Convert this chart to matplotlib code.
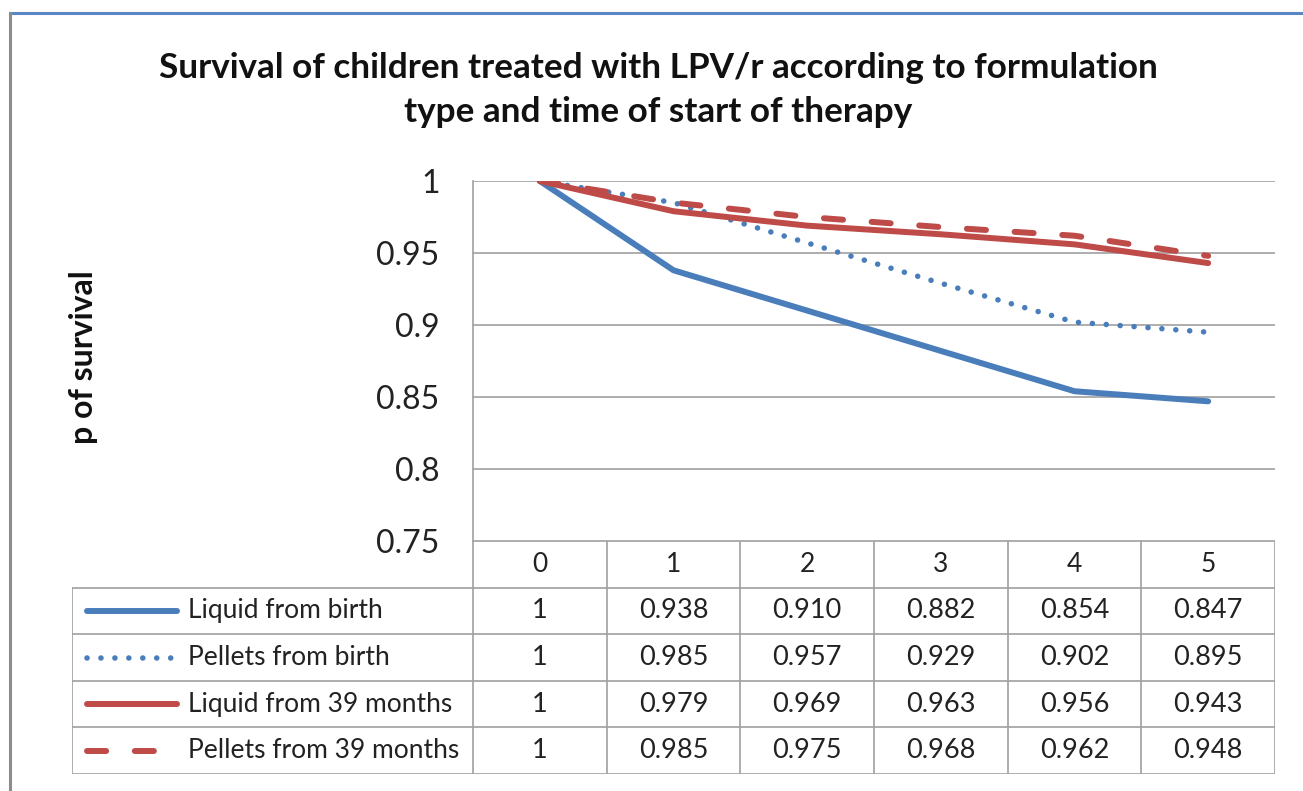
import matplotlib.pyplot as plt
from matplotlib.lines import Line2D

# data
years = [0, 1, 2, 3, 4, 5]
liquid_birth = [1, 0.938, 0.910, 0.882, 0.854, 0.847]
pellets_birth = [1, 0.985, 0.957, 0.929, 0.902, 0.895]
liquid_39 = [1, 0.979, 0.969, 0.963, 0.956, 0.943]
pellets_39 = [1, 0.985, 0.975, 0.968, 0.962, 0.948]
series_names = ["Liquid from birth", "Pellets from birth",
                "Liquid from 39 months", "Pellets from 39 months"]
y_ticks = [0.75, 0.8, 0.85, 0.9, 0.95, 1]
y_tick_labels = ["0.75", "0.8", "0.85", "0.9", "0.95", "1"]

BLUE = "#4a7ebb"
RED = "#be4b48"
GRID = "#a0a0a0"
TXT = "#222222"
plt.rcParams['font.family'] = ['Lato', 'DejaVu Sans']

W, H = 1303, 791
fig = plt.figure(figsize=(W / 100, H / 100), dpi=100)


def fx(px):
    return px / W


def fy(py):
    return 1 - py / H


series = [liquid_birth, pellets_birth, liquid_39, pellets_39]
styles = [
    dict(color=BLUE, lw=4.3, ls="-", solid_capstyle="round"),
    dict(color=BLUE, lw=4.0, ls=(0, (0.01, 2.5)), dash_capstyle="round"),
    dict(color=RED, lw=4.3, ls="-", solid_capstyle="round"),
    dict(color=RED, lw=4.3, ls=(0, (3.2, 4.8)), dash_capstyle="round"),
]

# plot area
left, right, top, bottom = 473, 1275, 181, 541
ax = fig.add_axes([fx(left), fy(bottom), fx(right - left), fy(top) - fy(bottom)])
for vals, st in zip(series, styles):
    ax.plot(years, vals, **st, zorder=3)
ax.set_xlim(-0.5, len(years) - 0.5)
ax.set_ylim(0.75, 1)
ax.set_yticks(y_ticks)
ax.set_yticklabels(y_tick_labels, fontsize=23, color=TXT)
ax.set_xticks([])
ax.tick_params(axis="y", length=0, pad=24)
ax.yaxis.grid(True, color=GRID, lw=1.2)
for s in ["top", "right", "bottom"]:
    ax.spines[s].set_visible(False)
ax.spines["left"].set_color(GRID)
ax.spines["left"].set_linewidth(1.2)

# data table below the plot
tleft, tbot = 72, 774
row_h = (tbot - bottom) / 5
tab = fig.add_axes([fx(tleft), fy(tbot), fx(right - tleft), fy(bottom) - fy(tbot)])
tab.set_xlim(tleft, right)
tab.set_ylim(tbot, bottom)
tab.axis("off")
col_w = (right - left) / len(years)
lc = dict(color=GRID, lw=1.2)
tab.plot([left, right], [bottom, bottom], **lc)
for i in range(1, 6):
    y = bottom + i * row_h
    tab.plot([tleft, right], [y, y], **lc)
tab.plot([tleft, tleft], [bottom + row_h, tbot], **lc)
for j in range(len(years) + 1):
    x = left + j * col_w
    tab.plot([x, x], [bottom, tbot], **lc)
for j, yr in enumerate(years):
    tab.text(left + (j + 0.5) * col_w, bottom + row_h / 2, str(yr),
             ha="center", va="center", fontsize=19, color=TXT)
for i, (name, vals, st) in enumerate(zip(series_names, series, styles)):
    yc = bottom + (i + 1.5) * row_h
    tab.add_line(Line2D([87, 177], [yc, yc], **st))
    tab.text(188, yc, name, ha="left", va="center", fontsize=19, color=TXT)
    for j, v in enumerate(vals):
        txt = "1" if v == 1 else f"{v:.3f}"
        tab.text(left + (j + 0.5) * col_w, yc, txt, ha="center", va="center",
                 fontsize=19.5, color=TXT)

# titles
fig.text(0.505, fy(68), "Survival of children treated with LPV/r according to formulation",
         ha="center", va="center", fontsize=25.3, fontweight="bold", color="#111111")
fig.text(0.505, fy(112), "type and time of start of therapy",
         ha="center", va="center", fontsize=25.3, fontweight="bold", color="#111111")
fig.text(fx(83), fy(357), "p of survival", rotation=90, ha="center", va="center",
         fontsize=23, fontweight="bold", color="#111111")

# chart frame
fig.add_artist(Line2D([fx(10), 1], [fy(13), fy(13)], color="#5b86c5", lw=2.2))
fig.add_artist(Line2D([fx(10), fx(10)], [fy(13), 0], color="#8c8c8c", lw=2.2))

fig.savefig("out.png", dpi=100)
